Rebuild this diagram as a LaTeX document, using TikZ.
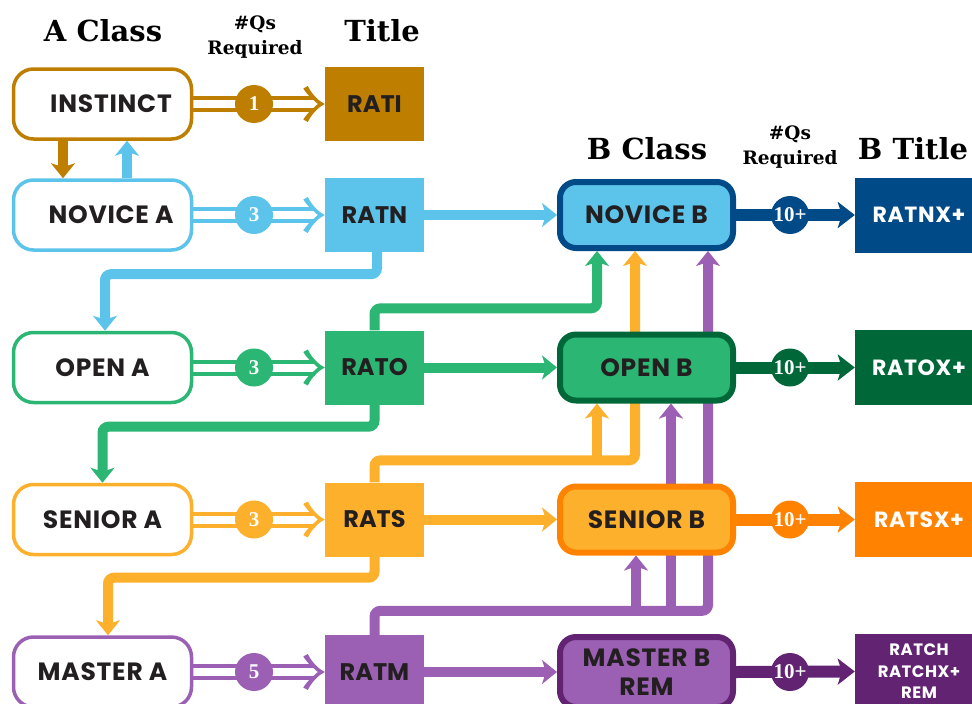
\documentclass[tikz,border=0pt]{standalone}
\usepackage{fontspec}
\usetikzlibrary{arrows.meta,calc}
\newfontfamily\hdfont{DejaVu Serif}
\newfontfamily\bxfont{Poppins}
\newfontfamily\bxwide{Poppins}[LetterSpace=3]
\newfontfamily\nmfont{Liberation Serif}
\definecolor{ink}{HTML}{231F20}
\definecolor{cBrown}{RGB}{190,126,0}
\definecolor{cBlue}{RGB}{92,196,234}
\definecolor{cGreen}{RGB}{43,182,115}
\definecolor{cYel}{RGB}{253,176,43}
\definecolor{cPur}{RGB}{155,96,180}
\definecolor{dBlue}{RGB}{0,74,135}
\definecolor{dGreen}{RGB}{0,104,56}
\definecolor{dOrange}{RGB}{255,131,0}
\definecolor{dPur}{RGB}{98,35,115}
\pgfdeclarelayer{bg}
\pgfsetlayers{bg,main}
\begin{document}
\begin{tikzpicture}[x=1pt,y=-1pt,
 abox/.style={draw=#1, line width=3.5pt, fill=white, rounded corners=20pt, minimum width=178pt, minimum height=70pt, inner sep=0pt, font=\bxwide\bfseries\fontsize{25}{28}\selectfont, text=ink},
 tbox/.style={fill=#1, minimum width=99pt, minimum height=74pt, inner sep=0pt, font=\bxfont\bfseries\fontsize{24}{27}\selectfont, text=ink},
 bbox/.style 2 args={draw=#2, fill=#1, line width=6pt, rounded corners=16pt, minimum width=173pt, minimum height=66pt, inner sep=0pt, align=center, font=\bxwide\bfseries\fontsize{25}{29}\selectfont, text=ink},
 btbox/.style={fill=#1, minimum width=128pt, minimum height=75pt, inner sep=0pt, align=center, text=white, font=\bxwide\bfseries\fontsize{22}{25}\selectfont},
 qc/.style={circle, fill=#1, minimum size=38pt, inner sep=0pt, text=white, font=\nmfont\bfseries\fontsize{21}{22}\selectfont},
 hd/.style={font=\hdfont\bfseries\fontsize{29}{32}\selectfont, text=black, inner sep=0pt},
 hq/.style={font=\hdfont\bfseries\fontsize{18.5}{25}\selectfont, align=center, text=black, inner sep=0pt},
 conn/.style={draw=#1, line width=10pt, -{Stealth[length=15pt,width=24pt,inset=4pt]}, rounded corners=6pt},
 dbl/.style={draw=#1, line width=4pt, double=white, double distance=8pt, shorten >=10pt},
 bar/.style={draw=#1, line width=12pt, -{Stealth[length=17pt,width=26pt,inset=4pt]}},
 hhead/.pic={
   \fill (0,0) .. controls (-5,-2.5) and (-12,-8) .. (-17,-18) -- (-21.5,-15.5)
     .. controls (-16.5,-7.5) and (-11,-4) .. (-7,0)
     .. controls (-11,4) and (-16.5,7.5) .. (-21.5,15.5) -- (-17,18)
     .. controls (-12,8) and (-5,2.5) .. (0,0) -- cycle;
 }
]
\useasboundingbox (0,0) rectangle (972,704);
\clip (0,0) rectangle (972,704);
% headers
\node[hd] (hA) at (103,31) {A Class};
\node[hq] (hQ1) at (255,37) {\#Qs\\Required};
\node[hd] (hT) at (382,31) {Title};
\node[hd] (hB) at (647,149) {B Class};
\node[hq] (hQ2) at (790,147) {\#Qs\\Required};
\node[hd] (hBT) at (913,149) {B Title};
% A column
\node[abox=cBrown] (inst) at (102.5,104) {\hspace*{17pt}INSTINCT};
\node[abox=cBlue] (nova) at (102.5,215) {\hspace*{17pt}NOVICE A};
\node[abox=cGreen] (opa) at (102.5,367.5) {OPEN A};
\node[abox=cYel] (sena) at (102.5,519.5) {SENIOR A};
\node[abox=cPur] (masa) at (102.5,672) {MASTER A};
% titles
\node[tbox=cBrown] (rati) at (374.5,104) {RATI};
\node[tbox=cBlue] (ratn) at (374.5,215) {RATN};
\node[tbox=cGreen] (rato) at (374.5,367.5) {RATO};
\node[tbox=cYel] (rats) at (374.5,519.5) {RATS};
\node[tbox=cPur] (ratm) at (374.5,672) {RATM};
% B column
\node[bbox={cBlue}{dBlue}] (nb) at (646.5,215) {NOVICE B};
\node[bbox={cGreen}{dGreen}] (ob) at (646.5,367.5) {OPEN B};
\node[bbox={cYel}{dOrange}] (sb) at (646.5,519.5) {SENIOR B};
\node[bbox={cPur}{dPur}, minimum height=70pt] (mb) at (646.5,672) {MASTER B\\REM};
% B titles
\node[btbox=dBlue] (rnx) at (919,215) {RATNX+};
\node[btbox=dGreen] (rox) at (919,367.5) {RATOX+};
\node[btbox=dOrange] (rsx) at (919,519.5) {RATSX+};
\node[btbox=dPur, font=\bxwide\bfseries\fontsize{16.5}{21.5}\selectfont] (rch) at (919,671.5) {RATCH\\RATCHX+\\REM};
% circles
\node[qc=cBrown] (q1) at (254,104) {1};
\node[qc=cBlue] (q2) at (254,215) {3};
\node[qc=cGreen] (q3) at (254,367.5) {3};
\node[qc=cYel] (q4) at (254,519.5) {3};
\node[qc=cPur] (q5) at (254,672) {5};
\node[qc=dBlue] (b1) at (790,215) {10+};
\node[qc=dGreen] (b2) at (790,367.5) {10+};
\node[qc=dOrange] (b3) at (790,519.5) {10+};
\node[qc=dPur] (b4) at (790,672) {10+};
\coordinate (yJ) at (597,460);
\coordinate (pJa) at (671,612);
\coordinate (pJb) at (636,612);
\begin{pgfonlayer}{bg}
\draw[dbl=cBrown] (inst.east) -- (rati.west);
\pic[color=cBrown] at (rati.west) {hhead};
\draw[dbl=cBlue] (nova.east) -- (ratn.west);
\pic[color=cBlue] at (ratn.west) {hhead};
\draw[dbl=cGreen] (opa.east) -- (rato.west);
\pic[color=cGreen] at (rato.west) {hhead};
\draw[dbl=cYel] (sena.east) -- (rats.west);
\pic[color=cYel] at (rats.west) {hhead};
\draw[dbl=cPur] (masa.east) -- (ratm.west);
\pic[color=cPur] at (ratm.west) {hhead};
\draw[bar=dBlue] (nb.east) -- (rnx.west);
\draw[bar=dGreen] (ob.east) -- (rox.west);
\draw[bar=dOrange] (sb.east) -- (rsx.west);
\draw[bar=dPur] (mb.east) -- (rch.west);
\draw[conn=cBrown] (inst.south -| 63,0) -- (nova.north -| 63,0);
\draw[conn=cBlue] (nova.north -| 127,0) -- (inst.south -| 127,0);
\draw[conn=cBlue] (ratn.south -| 377,0) -- ++(0,22) -| (opa.north -| 105,0);
\draw[conn=cBlue] (ratn.east) -- (nb.west);
\draw[conn=cGreen] (rato.north) -- ++(0,-22) -| (nb.south -| 597,0);
\draw[conn=cGreen] (rato.east) -- (ob.west);
\draw[conn=cGreen] (rato.south) -- ++(0,22) -| (sena.north);
\draw[conn=cYel] (rats.north) -- ++(0,-22) -| (nb.south -| 635,0);
\draw[conn=cYel] (yJ) -- (ob.south -| yJ);
\draw[conn=cYel] (rats.east) -- (sb.west);
\draw[conn=cYel] (rats.south) -- ++(0,21) -| (masa.north -| 108,0);
\draw[conn=cPur] (ratm.north) -- ++(0,-24) -| (nb.south -| 708,0);
\draw[conn=cPur] (pJa) -- (ob.south -| pJa);
\draw[conn=cPur] (pJb) -- (sb.south -| pJb);
\draw[conn=cPur] (ratm.east) -- (mb.west);
\end{pgfonlayer}
\end{tikzpicture}
\end{document}
